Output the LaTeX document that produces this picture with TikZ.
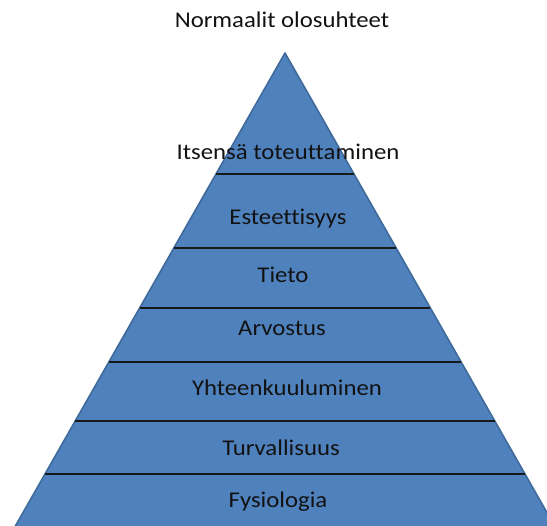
\documentclass[tikz,border=0pt]{standalone}
\usepackage{fontspec}
\setmainfont[Ligatures=NoCommon]{Carlito}
\usetikzlibrary{calc}
\definecolor{pyrfill}{HTML}{4F81BD}
\definecolor{pyredge}{HTML}{3F6A9C}
\definecolor{labelink}{HTML}{121212}
\tikzset{
  level label/.style={anchor=base, inner sep=0pt, text=labelink,
    font=\fontsize{22.5}{27}\selectfont},
  divider/.style={draw=black!90, line width=1.2pt},
  pyramid/.style={fill=pyrfill, draw=pyredge, line width=1.6pt, line join=round}
}
\newcommand{\wide}[1]{\scalebox{1.1}[1]{#1}}
\begin{document}
\begin{tikzpicture}[x=1pt,y=1pt]
  \useasboundingbox (0,0) rectangle (547,-526);
  \clip (0,0) rectangle (547,-526);
  % pyramid outline, base below the lower edge of the page
  \coordinate (apex) at (285,-53);
  \coordinate (bl) at (7.4,-540);
  \coordinate (br) at (562.6,-540);
  \path[pyramid] (apex) -- (bl) -- (br) -- cycle;
  % level dividers, each spanning the full width at its height
  \foreach \h in {174,248,308,362,421,474}{
    \pgfmathsetmacro{\t}{(\h-53)/487}
    \draw[divider] ($(apex)!\t!(bl)$) -- ($(apex)!\t!(br)$);
  }
  % labels
  \node[level label] (title) at (282,-28) {\wide{Normaalit olosuhteet}};
  \node[level label] (l7) at (288,-160) {\wide{Itsensä toteuttaminen}};
  \node[level label] (l6) at (288,-225) {\wide{Esteettisyys}};
  \node[level label] (l5) at (283,-283) {\wide{Tieto}};
  \node[level label] (l4) at (282,-336) {\wide{Arvostus}};
  \node[level label] (l3) at (287,-396) {\wide{Yhteenkuuluminen}};
  \node[level label] (l2) at (281,-456) {\wide{Turvallisuus}};
  \node[level label] (l1) at (278,-508) {\wide{Fysiologia}};
\end{tikzpicture}
\end{document}
